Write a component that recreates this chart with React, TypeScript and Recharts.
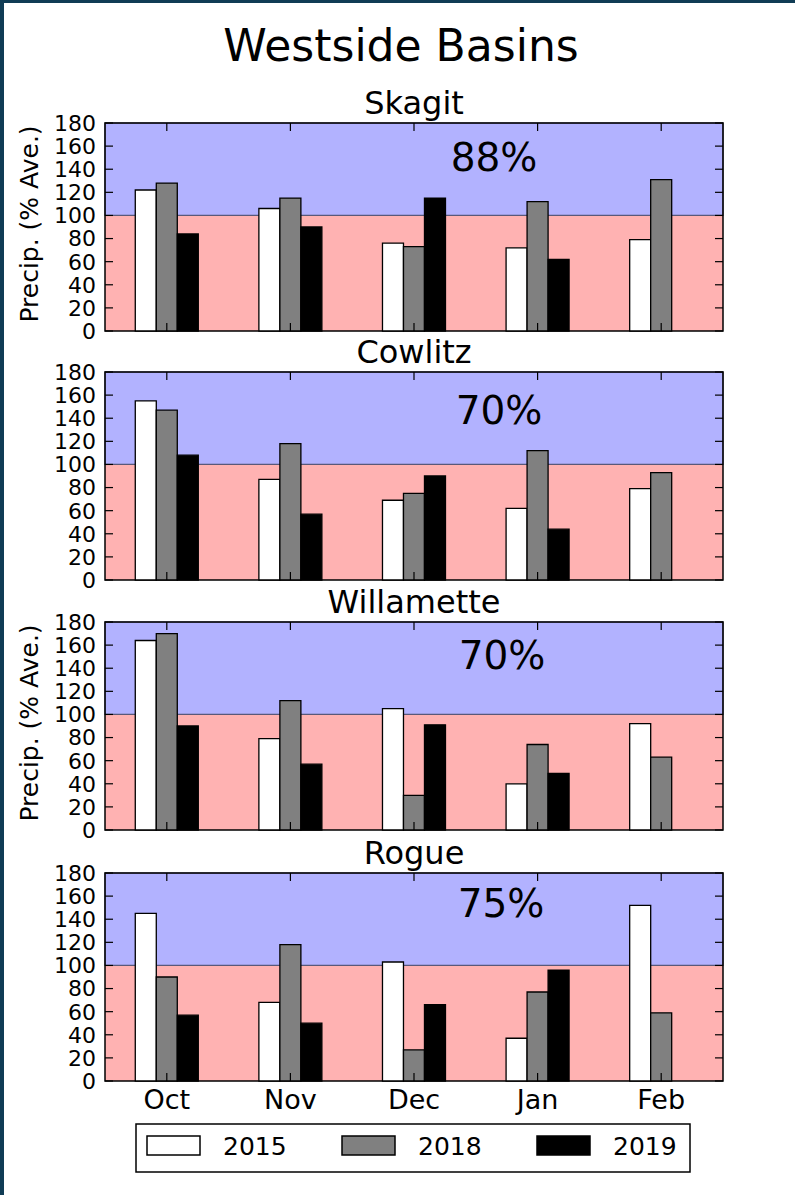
import { BarChart, Bar, XAxis, YAxis, ReferenceArea } from "recharts";

const months = ["Oct", "Nov", "Dec", "Jan", "Feb"];
const basins = ["Skagit", "Cowlitz", "Willamette", "Rogue"];
const pctOfAverage = ["88%", "70%", "70%", "75%"];
const years = ["2015", "2018", "2019"];
const yTicks = [0, 20, 40, 60, 80, 100, 120, 140, 160, 180];

const skagit2015 = [122, 106, 76, 72, 79];
const skagit2018 = [128, 115, 73, 112, 131];
const skagit2019 = [84, 90, 115, 62, 0];

const cowlitz2015 = [155, 87, 69, 62, 79];
const cowlitz2018 = [147, 118, 75, 112, 93];
const cowlitz2019 = [108, 57, 90, 44, 0];

const willamette2015 = [164, 79, 105, 40, 92];
const willamette2018 = [170, 112, 30, 74, 63];
const willamette2019 = [90, 57, 91, 49, 0];

const rogue2015 = [145, 68, 103, 37, 152];
const rogue2018 = [90, 118, 27, 77, 59];
const rogue2019 = [57, 50, 66, 96, 0];

const basinSeries = [
  [skagit2015, skagit2018, skagit2019],
  [cowlitz2015, cowlitz2018, cowlitz2019],
  [willamette2015, willamette2018, willamette2019],
  [rogue2015, rogue2018, rogue2019],
];

const yearColors = ["#ffffff", "#808080", "#000000"];

// layout
const W = 795;
const PLOT_LEFT = 105;
const PLOT_RIGHT = 723;
const PLOT_H = 208;
const PLOT_TOPS = [123, 372, 622, 873];
const MT = 16;
const TICK = 8;
const FONT = "'DejaVu Sans', sans-serif";
const pctX = [494, 499, 502, 501];
const pctDy = [48, 52, 47, 44];

function YTick(props: any) {
  const { y, payload } = props;
  return (
    <g>
      <text x={PLOT_LEFT - 9} y={y} dy="0.36em" textAnchor="end" fontSize={22} fill="#000">
        {payload.value}
      </text>
      <line x1={PLOT_LEFT} x2={PLOT_LEFT + TICK} y1={y} y2={y} stroke="#000" strokeWidth={1.2} />
      <line x1={PLOT_RIGHT - TICK} x2={PLOT_RIGHT} y1={y} y2={y} stroke="#000" strokeWidth={1.2} />
    </g>
  );
}

function makeXTick(showLabel: boolean) {
  return (props: any) => {
    const { x, payload } = props;
    const top = MT;
    const bottom = MT + PLOT_H;
    return (
      <g>
        <line x1={x} x2={x} y1={top} y2={top + TICK} stroke="#000" strokeWidth={1.2} />
        <line x1={x} x2={x} y1={bottom - TICK} y2={bottom} stroke="#000" strokeWidth={1.2} />
        {showLabel && (
          <text x={x} y={bottom + 28} textAnchor="middle" fontSize={27} fill="#000">
            {payload.value}
          </text>
        )}
      </g>
    );
  };
}

function Panel({ index }: { index: number }) {
  const series = basinSeries[index];
  const data = months.map((m, i) => {
    const row: any = { month: m };
    years.forEach((yr, k) => {
      row["y" + yr] = series[k][i];
    });
    return row;
  });
  const last = index === basins.length - 1;
  const xh = last ? 40 : 16;
  const height = MT + PLOT_H + xh;
  return (
    <div style={{ position: "absolute", left: 0, top: PLOT_TOPS[index] - MT }}>
      <BarChart
        width={W}
        height={height}
        data={data}
        margin={{ top: MT, right: W - PLOT_RIGHT, bottom: 0, left: 0 }}
        barCategoryGap="24.5%"
        barGap={0}
        style={{ overflow: "visible" }}
      >
        <XAxis
          dataKey="month"
          axisLine={false}
          tickLine={false}
          height={xh}
          interval={0}
          tick={makeXTick(last)}
        />
        <YAxis
          domain={[0, 180]}
          ticks={yTicks}
          interval={0}
          width={PLOT_LEFT}
          axisLine={false}
          tickLine={false}
          tick={YTick}
        />
        <ReferenceArea y1={0} y2={100} fill="#ffb2b2" fillOpacity={1} stroke="none" />
        <ReferenceArea y1={100} y2={180} fill="#b2b2ff" fillOpacity={1} stroke="#59597a" strokeWidth={1.2} />
        <ReferenceArea y1={0} y2={180} fill="none" stroke="#000" strokeWidth={1.5} />
        {years.map((yr, k) => (
          <Bar
            key={yr}
            dataKey={"y" + yr}
            fill={yearColors[k]}
            stroke="#000"
            strokeWidth={1.3}
            isAnimationActive={false}
          />
        ))}
      </BarChart>
    </div>
  );
}

export default function App() {
  const legendLeft = 136;
  const legendTop = 1124;
  return (
    <div
      style={{
        position: "absolute",
        left: 0,
        top: 0,
        width: W,
        height: 1195,
        background: "#fff",
        fontFamily: FONT,
        overflow: "hidden",
      }}
    >
      {basins.map((b, i) => (
        <Panel key={b} index={i} />
      ))}
      <svg
        width={W}
        height={1195}
        style={{ position: "absolute", left: 0, top: 0, pointerEvents: "none" }}
        fontFamily={FONT}
      >
        <text x={401} y={61} textAnchor="middle" fontSize={44} fill="#000">
          Westside Basins
        </text>
        {basins.map((b, i) => (
          <g key={b}>
            <text x={(PLOT_LEFT + PLOT_RIGHT) / 2} y={PLOT_TOPS[i] - 9} textAnchor="middle" fontSize={32} fill="#000">
              {b}
            </text>
            <text x={pctX[i]} y={PLOT_TOPS[i] + pctDy[i]} textAnchor="middle" fontSize={39} fill="#000">
              {pctOfAverage[i]}
            </text>
            {i % 2 === 0 && (
              <text
                x={38}
                y={PLOT_TOPS[i] + PLOT_H / 2 - 3}
                textAnchor="middle"
                fontSize={25}
                fill="#000"
                transform={`rotate(-90, 38, ${PLOT_TOPS[i] + PLOT_H / 2 - 3})`}
              >
                Precip. (% Ave.)
              </text>
            )}
          </g>
        ))}
        <rect x={legendLeft} y={legendTop} width={554} height={48} fill="#fff" stroke="#000" strokeWidth={1.5} />
        {years.map((yr, k) => (
          <g key={yr}>
            <rect
              x={147 + k * 195}
              y={1136}
              width={53}
              height={19}
              fill={yearColors[k]}
              stroke="#000"
              strokeWidth={1.5}
            />
            <text x={147 + k * 195 + 76} y={1155} fontSize={25} fill="#000">
              {yr}
            </text>
          </g>
        ))}
      </svg>
      <div style={{ position: "absolute", left: 0, top: 0, width: W, height: 3, background: "#103c55" }} />
      <div style={{ position: "absolute", left: 0, top: 0, width: 4, height: 1195, background: "#103c55" }} />
    </div>
  );
}
